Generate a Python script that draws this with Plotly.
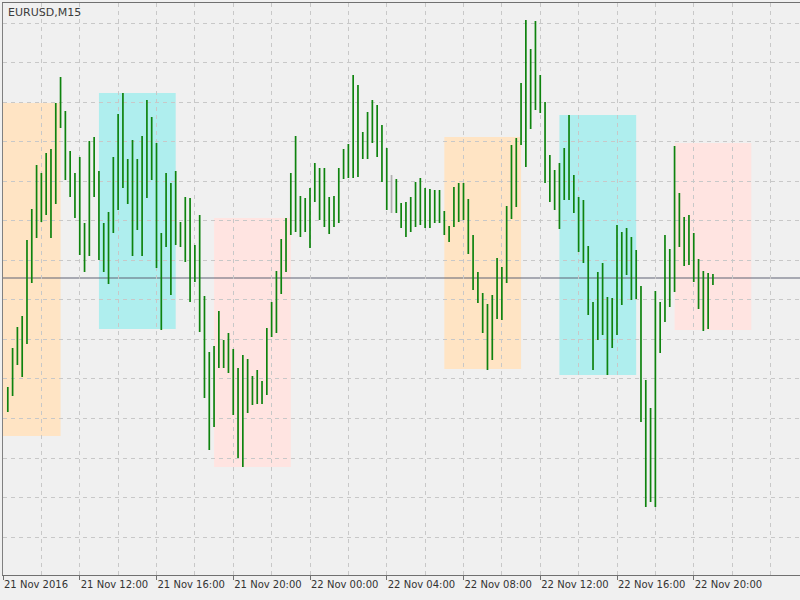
import pandas as pd
import plotly.graph_objects as go

symbol_title = "EURUSD,M15"
first_bar = "2016-11-21 08:15"

open_ = [1.06608,1.06604,1.06645,1.06647,1.06661,1.06758,1.06784,1.06804,1.06807,1.06844,
         1.06796,1.06886,1.06884,1.06821,1.06826,1.06810,1.06752,1.06756,1.06857,1.06804,
         1.06759,1.06752,1.06774,1.06814,1.06883,1.06822,1.06835,1.06817,1.06805,1.06851,
         1.06835,1.06858,1.06734,1.06765,1.06785,1.06737,1.06777,1.06772,1.06768,1.06744,
         1.06743,1.06693,1.06618,1.06575,1.06654,1.06650,1.06649,1.06637,1.06617,1.06543,
         1.06631,1.06604,1.06598,1.06607,1.06609,1.06663,1.06677,1.06716,1.06760,1.06767,
         1.06825,1.06771,1.06780,1.06775,1.06800,1.06824,1.06816,1.06800,1.06774,1.06781,
         1.06825,1.06845,1.06855,1.06915,1.06866,1.06851,1.06857,1.06876,1.06848,1.06831,
         1.06800,1.06800,1.06787,1.06786,1.06790,1.06785,1.06805,1.06807,1.06772,1.06809,
         1.06810,1.06783,1.06767,1.06773,1.06811,1.06798,1.06800,1.06764,1.06714,1.06698,
         1.06668,1.06669,1.06697,1.06727,1.06732,1.06793,1.06808,1.06856,1.06906,1.06948,
         1.06914,1.06909,1.06891,1.06820,1.06825,1.06813,1.06832,1.06848,1.06801,1.06800,
         1.06795,1.06742,1.06687,1.06672,1.06712,1.06690,1.06658,1.06673,1.06762,1.06734,
         1.06752,1.06742,1.06713,1.06603,1.06548,1.06500,1.06660,1.06679,1.06750,1.06721,
         1.06807,1.06775,1.06757,1.06761,1.06741,1.06718,1.06678,1.06727]

high = [1.06613,1.06652,1.06673,1.06684,1.06760,1.06791,1.06835,1.06827,1.06847,1.06851,
        1.06897,1.06923,1.06889,1.06849,1.06827,1.06843,1.06777,1.06859,1.06863,1.06829,
        1.06777,1.06788,1.06843,1.06886,1.06907,1.06841,1.06860,1.06841,1.06864,1.06900,
        1.06883,1.06857,1.06767,1.06827,1.06817,1.06829,1.06778,1.06803,1.06802,1.06755,
        1.06785,1.06704,1.06648,1.06654,1.06689,1.06660,1.06667,1.06651,1.06632,1.06645,
        1.06641,1.06624,1.06630,1.06619,1.06672,1.06698,1.06729,1.06761,1.06782,1.06827,
        1.06864,1.06804,1.06802,1.06812,1.06837,1.06832,1.06832,1.06803,1.06804,1.06832,
        1.06851,1.06856,1.06925,1.06915,1.06868,1.06888,1.06900,1.06895,1.06875,1.06852,
        1.06825,1.06821,1.06797,1.06798,1.06803,1.06818,1.06822,1.06812,1.06811,1.06810,
        1.06810,1.06789,1.06774,1.06813,1.06817,1.06817,1.06801,1.06765,1.06728,1.06707,
        1.06696,1.06705,1.06742,1.06733,1.06794,1.06855,1.06862,1.06917,1.06980,1.06951,
        1.06979,1.06925,1.06898,1.06845,1.06830,1.06837,1.06852,1.06885,1.06825,1.06803,
        1.06800,1.06754,1.06698,1.06728,1.06737,1.06703,1.06702,1.06775,1.06768,1.06772,
        1.06763,1.06750,1.06714,1.06620,1.06592,1.06709,1.06698,1.06765,1.06751,1.06854,
        1.06807,1.06783,1.06785,1.06767,1.06741,1.06729,1.06727,1.06726]

low = [1.06588,1.06604,1.06635,1.06623,1.06656,1.06717,1.06762,1.06778,1.06785,1.06762,
       1.06796,1.06872,1.06820,1.06803,1.06782,1.06745,1.06728,1.06744,1.06803,1.06740,
       1.06728,1.06716,1.06767,1.06790,1.06812,1.06796,1.06744,1.06770,1.06744,1.06802,
       1.06820,1.06732,1.06670,1.06753,1.06705,1.06755,1.06753,1.06738,1.06698,1.06718,
       1.06668,1.06602,1.06550,1.06573,1.06632,1.06632,1.06627,1.06585,1.06542,1.06533,
       1.06587,1.06595,1.06596,1.06596,1.06605,1.06663,1.06667,1.06706,1.06728,1.06765,
       1.06768,1.06763,1.06768,1.06752,1.06798,1.06780,1.06773,1.06766,1.06773,1.06777,
       1.06821,1.06822,1.06822,1.06823,1.06841,1.06841,1.06857,1.06843,1.06818,1.06790,
       1.06787,1.06787,1.06772,1.06763,1.06768,1.06773,1.06775,1.06772,1.06772,1.06777,
       1.06777,1.06765,1.06758,1.06773,1.06778,1.06780,1.06746,1.06710,1.06697,1.06667,
       1.06630,1.06640,1.06681,1.06680,1.06717,1.06781,1.06793,1.06855,1.06833,1.06871,
       1.06890,1.06887,1.06817,1.06798,1.06790,1.06771,1.06800,1.06800,1.06787,1.06748,
       1.06737,1.06685,1.06630,1.06660,1.06665,1.06625,1.06652,1.06665,1.06695,1.06725,
       1.06700,1.06701,1.06578,1.06493,1.06498,1.06493,1.06647,1.06678,1.06693,1.06708,
       1.06753,1.06734,1.06735,1.06718,1.06691,1.06669,1.06671,1.06715]

close = [1.06605,1.06645,1.06647,1.06661,1.06758,1.06784,1.06804,1.06807,1.06844,1.06796,
         1.06886,1.06884,1.06821,1.06826,1.06810,1.06752,1.06756,1.06857,1.06804,1.06759,
         1.06752,1.06774,1.06814,1.06883,1.06822,1.06835,1.06817,1.06805,1.06851,1.06835,
         1.06858,1.06734,1.06765,1.06785,1.06737,1.06777,1.06772,1.06768,1.06744,1.06743,
         1.06693,1.06618,1.06575,1.06654,1.06650,1.06649,1.06637,1.06617,1.06543,1.06631,
         1.06604,1.06598,1.06607,1.06609,1.06663,1.06677,1.06716,1.06760,1.06767,1.06825,
         1.06771,1.06780,1.06775,1.06800,1.06824,1.06816,1.06800,1.06774,1.06781,1.06825,
         1.06845,1.06855,1.06915,1.06866,1.06851,1.06857,1.06876,1.06848,1.06831,1.06800,
         1.06800,1.06787,1.06786,1.06790,1.06785,1.06805,1.06807,1.06772,1.06809,1.06810,
         1.06783,1.06767,1.06773,1.06811,1.06798,1.06800,1.06764,1.06714,1.06698,1.06668,
         1.06669,1.06697,1.06727,1.06732,1.06793,1.06808,1.06856,1.06906,1.06948,1.06914,
         1.06909,1.06891,1.06820,1.06825,1.06813,1.06832,1.06848,1.06801,1.06800,1.06795,
         1.06742,1.06687,1.06672,1.06712,1.06690,1.06658,1.06673,1.06762,1.06734,1.06752,
         1.06742,1.06713,1.06603,1.06548,1.06500,1.06660,1.06679,1.06750,1.06721,1.06807,
         1.06775,1.06757,1.06761,1.06741,1.06718,1.06678,1.06727,1.06722]

session_start = ["2016-11-21 07:00", "2016-11-21 13:00", "2016-11-21 19:00",
                 "2016-11-22 07:00", "2016-11-22 13:00", "2016-11-22 19:00"]
session_end = ["2016-11-21 11:00", "2016-11-21 17:00", "2016-11-21 23:00",
               "2016-11-22 11:00", "2016-11-22 17:00", "2016-11-22 23:00"]
session_high = [1.06897, 1.06907, 1.06782, 1.06863, 1.06885, 1.06857]
session_low = [1.06564, 1.06671, 1.06533, 1.06631, 1.06625, 1.06670]
session_color = ["#ffe4c4", "#afeeee", "#ffe4e1", "#ffe4c4", "#afeeee", "#ffe4e1"]

tick_times = ["2016-11-21 08:00", "2016-11-21 12:00", "2016-11-21 16:00",
              "2016-11-21 20:00", "2016-11-22 00:00", "2016-11-22 04:00",
              "2016-11-22 08:00", "2016-11-22 12:00", "2016-11-22 16:00",
              "2016-11-22 20:00"]
tick_labels = ["21 Nov 2016", "21 Nov 12:00", "21 Nov 16:00", "21 Nov 20:00",
               "22 Nov 00:00", "22 Nov 04:00", "22 Nov 08:00", "22 Nov 12:00",
               "22 Nov 16:00", "22 Nov 20:00"]

x_range = ["2016-11-21 08:00:00", "2016-11-23 01:32:15"]
y_range = [1.06425, 1.06997]
grid_price0 = 1.06977
grid_step = 0.0003955

bar_time = pd.date_range(first_bar, periods=len(open_), freq="15min")
df = pd.DataFrame({"t": bar_time, "o": open_, "h": high, "l": low, "c": close})
doji = df["o"] == df["c"]

GREEN = "#0e830e"
fig = go.Figure()
for sub, col in ((df[~doji], GREEN), (df[doji], "#b0b0b0")):
    fig.add_trace(go.Ohlc(
        x=sub["t"], open=sub["o"], high=sub["h"], low=sub["l"], close=sub["c"],
        increasing=dict(line=dict(color=col, width=1.7)),
        decreasing=dict(line=dict(color=col, width=1.7)),
        tickwidth=0.5, hoverinfo="skip", showlegend=False))

for s, e, hi, lo, col in zip(session_start, session_end, session_high, session_low, session_color):
    fig.add_shape(type="rect", xref="x", yref="y", x0=s, x1=e, y0=lo, y1=hi,
                  fillcolor=col, line=dict(width=0), layer="below")

fig.add_shape(type="line", xref="x", yref="y", x0=x_range[0], x1=x_range[1],
              y0=close[-1], y1=close[-1], line=dict(color="#5f6275", width=1.2),
              layer="below")

fig.add_annotation(text=symbol_title, xref="paper", yref="paper", x=0, y=1,
                   xanchor="left", yanchor="top", xshift=3, yshift=-1,
                   showarrow=False,
                   font=dict(family="DejaVu Sans", size=11, color="#3c3c3c"))

grid = dict(showgrid=True, gridcolor="#c8c8c8", griddash="4px,4px", gridwidth=1)
fig.update_layout(
    width=800, height=600,
    margin=dict(l=3, r=0, t=3, b=25),
    paper_bgcolor="#f0f0f0", plot_bgcolor="#f0f0f0",
    font=dict(family="DejaVu Sans", size=10, color="#333333"),
    xaxis=dict(type="date", range=x_range, tickvals=tick_times, ticktext=tick_labels,
               ticks="outside", ticklen=4, tickcolor="#707070",
               ticklabelposition="outside right",
               showline=True, linecolor="#707070", mirror=True,
               rangeslider=dict(visible=False), zeroline=False,
               minor=dict(dtick=2 * 3600 * 1000, tick0="2016-11-21 08:00",
                          showgrid=True, gridcolor="#c8c8c8", griddash="4px,4px",
                          ticks=""),
               **grid),
    yaxis=dict(range=y_range, tick0=grid_price0, dtick=grid_step,
               showticklabels=False, ticks="", zeroline=False,
               showline=True, linecolor="#808080", mirror=False, **grid),
)

fig.write_html("out.html")
